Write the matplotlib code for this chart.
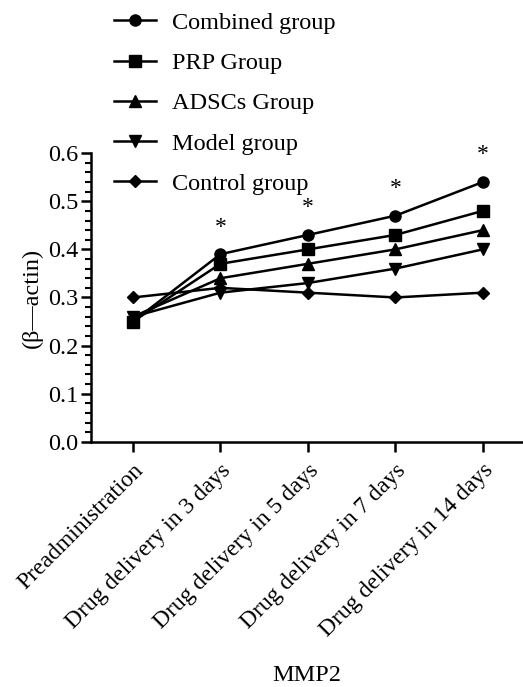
import matplotlib
matplotlib.use('Agg')
import matplotlib.pyplot as plt
from matplotlib.ticker import MultipleLocator

plt.rcParams['font.family'] = ['Liberation Serif', 'DejaVu Serif']

# Data
timepoints = ['Preadministration', 'Drug delivery in 3 days', 'Drug delivery in 5 days',
              'Drug delivery in 7 days', 'Drug delivery in 14 days']
combined = [0.25, 0.39, 0.43, 0.47, 0.54]
prp = [0.25, 0.37, 0.40, 0.43, 0.48]
adscs = [0.26, 0.34, 0.37, 0.40, 0.44]
model = [0.26, 0.31, 0.33, 0.36, 0.40]
control = [0.30, 0.32, 0.31, 0.30, 0.31]
group_names = ['Combined group', 'PRP Group', 'ADSCs Group', 'Model group', 'Control group']
markers = ['o', 's', '^', 'v', 'D']
star_idx = [1, 2, 3, 4]

fig = plt.figure(figsize=(5.23, 6.87), dpi=100)
ax = fig.add_axes([0.174, 0.357, 0.826, 0.42])

x = list(range(len(timepoints)))
series = [combined, prp, adscs, model, control]
for vals, name, m in zip(series, group_names, markers):
    ms = 6 if m == 'D' else 8
    ax.plot(x, vals, color='black', lw=1.8, marker=m, ms=ms, label=name)

# significance stars above the combined group
for i in star_idx:
    ax.annotate('*', (x[i], combined[i]), xytext=(0, 12), textcoords='offset points',
                ha='center', va='bottom', fontsize=17)

ax.set_xlim(-0.48, 4.46)
ax.set_ylim(0, 0.6)
ax.yaxis.set_major_locator(MultipleLocator(0.1))
ax.yaxis.set_minor_locator(MultipleLocator(0.02))
ax.yaxis.set_major_formatter(plt.FormatStrFormatter('%.1f'))
ax.set_xticks(x)
ax.set_xticklabels(timepoints, rotation=45, ha='right', rotation_mode='anchor', fontsize=17)
ax.tick_params(axis='y', labelsize=17.5, width=1.8, length=7, direction='out', pad=2)
ax.tick_params(axis='y', which='minor', width=1.5, length=4)
ax.tick_params(axis='x', width=1.8, length=7, pad=6)

for s in ['top', 'right']:
    ax.spines[s].set_visible(False)
for s in ['left', 'bottom']:
    ax.spines[s].set_linewidth(1.8)

ax.set_ylabel('(β—actin)', fontsize=17.5, labelpad=4)
ax.set_xlabel('MMP2', fontsize=17.5, labelpad=17)

ax.legend(loc='upper left', bbox_to_anchor=(0.199, 0.997), bbox_transform=fig.transFigure,
          frameon=False, fontsize=17.5, labelspacing=0.75, handlelength=1.75,
          handletextpad=0.66, borderaxespad=0)

fig.savefig('out.png', dpi=100)
